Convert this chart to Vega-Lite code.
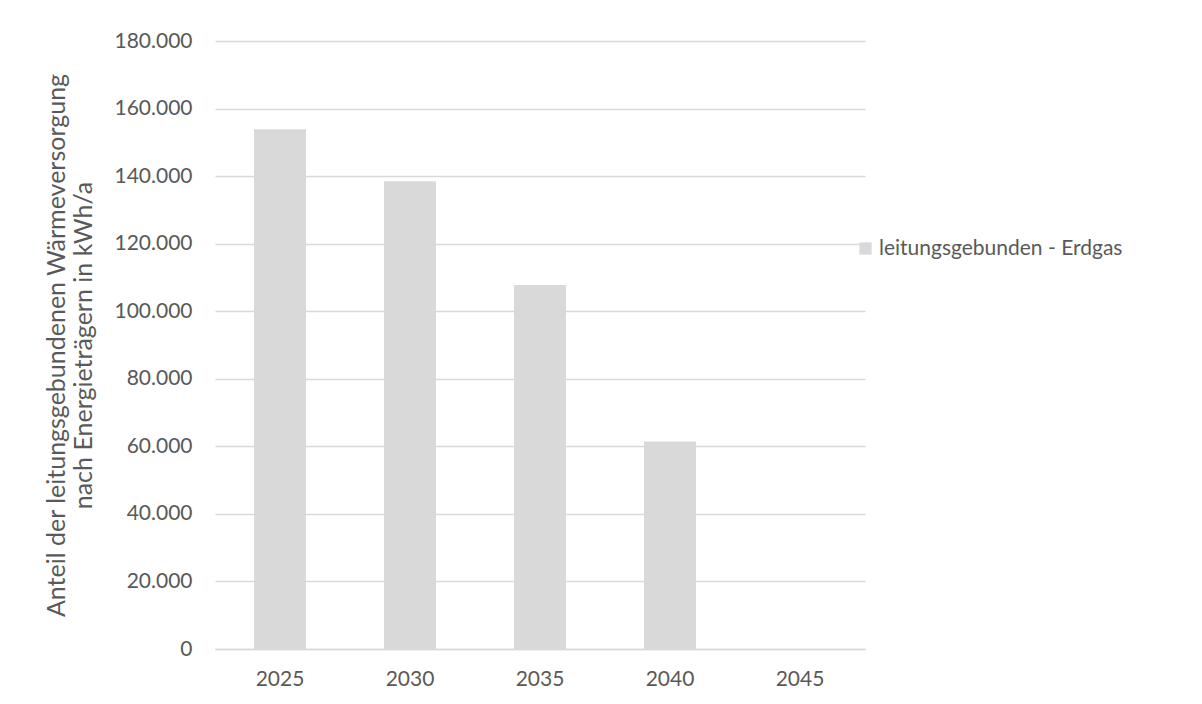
{
  "$schema": "https://vega.github.io/schema/vega-lite/v6.json",
  "width": 650,
  "height": 608,
  "autosize": {"type": "none"},
  "padding": {"left": 215, "top": 41, "right": 337, "bottom": 55},
  "background": "white",
  "config": {
    "font": "Lato",
    "view": {"stroke": null}
  },
  "data": {
    "values": [
      {"Jahr": "2025", "Wert": 153900, "Serie": "leitungsgebunden - Erdgas"},
      {"Jahr": "2030", "Wert": 138500, "Serie": "leitungsgebunden - Erdgas"},
      {"Jahr": "2035", "Wert": 107800, "Serie": "leitungsgebunden - Erdgas"},
      {"Jahr": "2040", "Wert": 61400, "Serie": "leitungsgebunden - Erdgas"},
      {"Jahr": "2045", "Wert": 0, "Serie": "leitungsgebunden - Erdgas"}
    ]
  },
  "mark": {"type": "bar", "color": "#d9d9d9"},
  "encoding": {
    "x": {
      "field": "Jahr",
      "type": "ordinal",
      "scale": {"paddingInner": 0.6, "paddingOuter": 0.3},
      "axis": {
        "title": null,
        "labelAngle": 0,
        "labelFont": "Lato",
        "labelFontSize": 21,
        "labelColor": "#595959",
        "labelPadding": 19,
        "ticks": false,
        "domainColor": "#d9d9d9",
        "domainWidth": 1.5
      }
    },
    "y": {
      "field": "Wert",
      "type": "quantitative",
      "scale": {"domain": [0, 180000], "nice": false},
      "axis": {
        "values": [0, 20000, 40000, 60000, 80000, 100000, 120000, 140000, 160000, 180000],
        "labelExpr": "replace(format(datum.value, ','), ',', '.')",
        "title": ["Anteil der leitungsgebundenen Wärmeversorgung", "nach Energieträgern in kWh/a"],
        "titleFont": "Lato",
        "titleFontSize": 25,
        "titleFontWeight": "normal",
        "titleColor": "#595959",
        "titlePadding": 17,
        "titleLineHeight": 27,
        "labelFont": "Lato",
        "labelFontSize": 21,
        "labelColor": "#595959",
        "labelPadding": 23,
        "ticks": false,
        "domain": false,
        "gridColor": "#d9d9d9",
        "gridWidth": 1.5
      }
    },
    "fill": {
      "field": "Serie",
      "type": "nominal",
      "scale": {"range": ["#d9d9d9"]},
      "legend": {
        "title": null,
        "orient": "none",
        "legendX": 640,
        "legendY": 197,
        "symbolType": "square",
        "symbolSize": 150,
        "symbolStrokeWidth": 0,
        "labelFont": "Lato",
        "labelFontSize": 21,
        "labelColor": "#595959",
        "labelOffset": 3,
        "labelLimit": 500
      }
    }
  }
}
